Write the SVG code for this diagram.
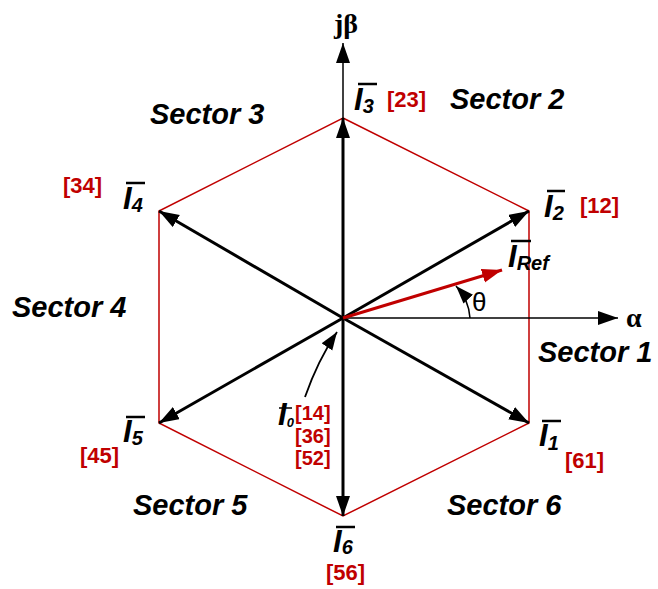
<svg xmlns="http://www.w3.org/2000/svg" width="658" height="589" viewBox="0 0 658 589">
<defs>
<style>
.hex{fill:none;stroke:#c00000;stroke-width:1.5}
.vec{stroke:#000;stroke-width:3;fill:none}
.axis{stroke:#000;stroke-width:1.5;fill:none}
.sec{font-family:"Liberation Sans",Arial,sans-serif;font-weight:bold;font-style:italic;font-size:29px;fill:#000}
.lbl{font-family:"Liberation Sans",Arial,sans-serif;font-weight:bold;font-style:italic;font-size:31px;fill:#000}
.sub{font-size:20px}
.code{font-family:"Liberation Sans",Arial,sans-serif;font-weight:bold;font-size:22px;fill:#c00000}
.stack{font-size:20px}
.greek{font-family:"Liberation Serif","Times New Roman",serif;font-weight:bold;font-size:28px;fill:#000}
.bar{stroke:#000;stroke-width:2.5}
</style>
<marker id="ah" markerUnits="userSpaceOnUse" markerWidth="22" markerHeight="16" refX="20" refY="7" orient="auto">
<path d="M0,0 L20,7 L0,14 z" fill="#000"/>
</marker>
<marker id="ahr" markerUnits="userSpaceOnUse" markerWidth="22" markerHeight="16" refX="20" refY="7" orient="auto">
<path d="M0,0 L20,7 L0,14 z" fill="#c00000"/>
</marker>
<marker id="ahs" markerUnits="userSpaceOnUse" markerWidth="20" markerHeight="14" refX="18" refY="6.5" orient="auto">
<path d="M0,0 L18,6.5 L0,13 z" fill="#000"/>
</marker>
</defs>
<rect width="658" height="589" fill="#fff"/>

<g id="hexagon">
<polygon class="hex" points="343,118 529,211 529,423 343,516 159,423 159,211"/>
</g>

<g id="connectors">
<line class="axis" x1="343" y1="318" x2="343" y2="43" marker-end="url(#ah)"/>
<line class="axis" x1="343" y1="318" x2="618" y2="318" marker-end="url(#ah)"/>
<line class="vec" x1="343" y1="318" x2="343" y2="118" marker-end="url(#ah)"/>
<line class="vec" x1="343" y1="318" x2="529" y2="211" marker-end="url(#ah)"/>
<line class="vec" x1="343" y1="318" x2="529" y2="423" marker-end="url(#ah)"/>
<line class="vec" x1="343" y1="318" x2="343" y2="516" marker-end="url(#ah)"/>
<line class="vec" x1="343" y1="318" x2="159" y2="423" marker-end="url(#ah)"/>
<line class="vec" x1="343" y1="318" x2="159" y2="211" marker-end="url(#ah)"/>
<line x1="343" y1="318" x2="502" y2="270" stroke="#c00000" stroke-width="3" marker-end="url(#ahr)"/>
<path d="M470,318 Q469,300 456,286" stroke="#000" stroke-width="1.5" fill="none" marker-end="url(#ahs)"/>
<path d="M305,397 Q318,360 337,332" stroke="#000" stroke-width="1.8" fill="none" marker-end="url(#ahs)"/>
</g>

<g id="axis-labels">
<text class="greek" x="334" y="33">jβ</text>
<text class="greek" x="626" y="327">α</text>
<text x="472" y="311" font-family="Liberation Sans,Arial,sans-serif" font-size="26" fill="#000">θ</text>
</g>

<g id="sectors">
<text class="sec" x="150" y="124">Sector 3</text>
<text class="sec" x="450" y="109">Sector 2</text>
<text class="sec" x="12" y="317">Sector 4</text>
<text class="sec" x="538" y="362">Sector 1</text>
<text class="sec" x="133" y="515">Sector 5</text>
<text class="sec" x="447" y="515">Sector 6</text>
</g>

<g id="I3">
<line class="bar" x1="358" y1="84" x2="377" y2="84"/>
<text class="lbl" x="354" y="110">I<tspan class="sub" dy="3">3</tspan></text>
<text class="code" x="387" y="107">[23]</text>
</g>
<g id="I2">
<line class="bar" x1="547" y1="191" x2="565" y2="191"/>
<text class="lbl" x="544" y="217">I<tspan class="sub" dy="3">2</tspan></text>
<text class="code" x="580" y="213">[12]</text>
</g>
<g id="IRef">
<line class="bar" x1="511" y1="241" x2="531" y2="241"/>
<text class="lbl" x="508" y="267">I<tspan class="sub" dy="3">Ref</tspan></text>
</g>
<g id="I4">
<line class="bar" x1="126" y1="183" x2="145" y2="183"/>
<text class="lbl" x="123" y="209">I<tspan class="sub" dy="3">4</tspan></text>
<text class="code" x="63" y="193">[34]</text>
</g>
<g id="I5">
<line class="bar" x1="126" y1="417" x2="145" y2="417"/>
<text class="lbl" x="123" y="442">I<tspan class="sub" dy="3">5</tspan></text>
<text class="code" x="80" y="463">[45]</text>
</g>
<g id="I1">
<line class="bar" x1="542" y1="421" x2="561" y2="421"/>
<text class="lbl" x="539" y="446">I<tspan class="sub" dy="4">1</tspan></text>
<text class="code" x="565" y="468">[61]</text>
</g>
<g id="I6">
<line class="bar" x1="336" y1="527" x2="355" y2="527"/>
<text class="lbl" x="333" y="552">I<tspan class="sub" dy="2">6</tspan></text>
<text class="code" x="326" y="580">[56]</text>
</g>
<g id="I0">
<line x1="279" y1="408" x2="292" y2="408" stroke="#000" stroke-width="1.5"/>
<text class="lbl" x="278" y="425" font-size="18">I<tspan font-size="13" dy="2">0</tspan></text>
<text class="code stack" x="295" y="420">[14]</text>
<text class="code stack" x="295" y="442.5">[36]</text>
<text class="code stack" x="295" y="465">[52]</text>
</g>
</svg>
